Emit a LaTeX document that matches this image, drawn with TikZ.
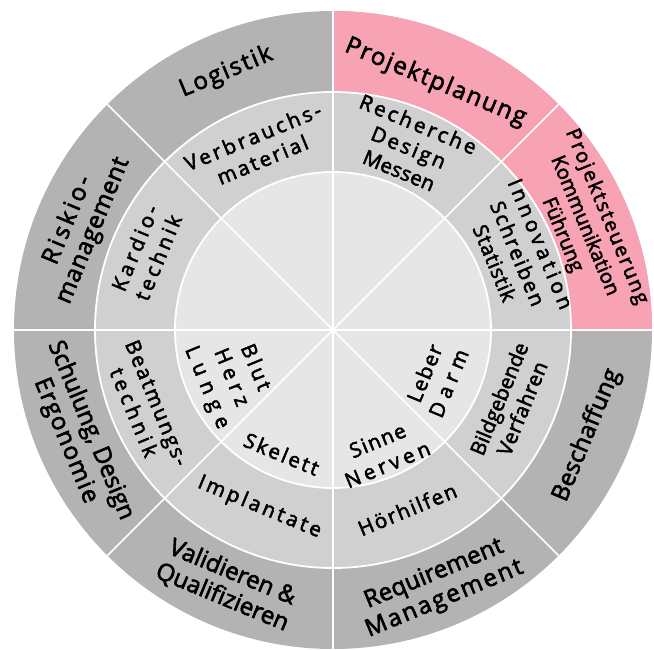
\documentclass[tikz,border=0pt]{standalone}
\usepackage{fontspec}
\setmainfont{Open Sans}[FakeBold=2.5]
\newcommand{\LS}[2]{{\addfontfeatures{LetterSpace=#1}#2}}
\definecolor{ringout}{HTML}{B3B3B3}
\definecolor{ringmid}{HTML}{D0D0D0}
\definecolor{ringin}{HTML}{E6E6E6}
\definecolor{pinkseg}{HTML}{F7A3B4}
\tikzset{
  lblout/.style={font=\fontsize{24}{27}\selectfont, align=center, inner sep=0pt, text=black},
  lblsteu/.style={font=\fontsize{20}{24}\selectfont, align=center, inner sep=0pt, text=black},
  lblmid/.style={font=\fontsize{20.5}{25}\selectfont, align=center, inner sep=0pt, text=black},
  lblin/.style={font=\fontsize{20.5}{26}\selectfont, align=center, inner sep=0pt, text=black},
  divider/.style={white, line width=1.6pt},
  ringline/.style={white, line width=1.8pt},
}
\begin{document}
\begin{tikzpicture}[x=1pt,y=1pt]
\useasboundingbox (-333,-319) rectangle (321,330);
\fill[ringout] (0,0) circle (319);
\fill[pinkseg] (0,0) -- (0:319) arc (0:90:319) -- cycle;
\fill[ringmid] (0,0) circle (238);
\fill[ringin] (0,0) circle (158);
\draw[ringline] (0,0) circle (238);
\draw[ringline] (0,0) circle (158);
\foreach \a in {0,45,...,315} \draw[divider] (0,0) -- (\a:319);
% outer ring
\node[lblout, rotate=22.5] (logistik) at (112.5:279) {\LS{8}{Logistik}};
\node[lblout, rotate=67.5] (risiko) at (157.5:273) {\LS{14}{Riskio-}\\\LS{3}{management}};
\node[lblout, rotate=-22.5] (projplan) at (67.5:268) {\LS{7.5}{Projektplanung}};
\node[lblsteu, rotate=-67.5] (projsteu) at (22.5:272) {\LS{9}{Projektsteuerung}\\\LS{0}{Kommunikation}\\\LS{0}{Führung}};
\node[lblout, rotate=67.5] (beschaffung) at (-22.5:275) {\LS{1}{Beschaffung}};
\node[lblout, rotate=22.5] (reqman) at (-67.5:278) {\LS{1}{Requirement}\\\LS{9}{Management}};
\node[lblout, rotate=-22.5] (valqual) at (-112.5:276) {\LS{0}{Validieren \&}\\\LS{0}{Qualifizieren}};
\node[lblout, rotate=-67.5] (schulung) at (-157.5:276) {\LS{0}{Schulung, Design}\\\LS{6}{Ergonomie}};
% middle ring
\node[lblmid, rotate=22.5] (verbrauch) at (112.5:197) {\LS{15}{Verbrauchs-}\\\LS{12}{material}};
\node[lblmid, rotate=67.5] (kardio) at (157.5:202) {\LS{18}{Kardio-}\\\LS{17}{technik}};
\node[lblmid, rotate=-22.5] (recherche) at (67.5:198) {\LS{15}{Recherche}\\\LS{13}{Design}\\\LS{2}{Messen}};
\node[lblmid, rotate=-67.5] (innovation) at (22.5:200) {\LS{20}{Innovation}\\\LS{10}{Schreiben}\\\LS{3.5}{Statistik}};
\node[lblmid, rotate=67.5] (bildgebend) at (-22.5:192) {\LS{0}{Bildgebende}\\\LS{3}{Verfahren}};
\node[lblmid, rotate=22.5] (hoerhilfen) at (-67.5:194) {\LS{9}{Hörhilfen}};
\node[lblmid, rotate=-22.5] (implantate) at (-112.5:192) {\LS{15}{Implantate}};
\node[lblmid, rotate=-67.5] (beatmung) at (-157.5:203) {\LS{10}{Beatmungs-}\\\LS{20}{technik}};
% inner circle
\node[lblin, rotate=-67.5] (blut) at (-155:113) {\LS{16}{Blut}\\\LS{26}{Herz}\\\LS{35}{Lunge}};
\node[lblin, rotate=-22.5] (skelett) at (-112.5:134) {\LS{12}{Skelett}};
\node[lblin, rotate=22.5] (sinne) at (-68:132) {\LS{7}{Sinne}\\\LS{20}{Nerven}};
\node[lblin, rotate=67.5] (leber) at (-25:114) {\LS{7}{Leber}\\\LS{29}{Darm}};
\end{tikzpicture}
\end{document}
